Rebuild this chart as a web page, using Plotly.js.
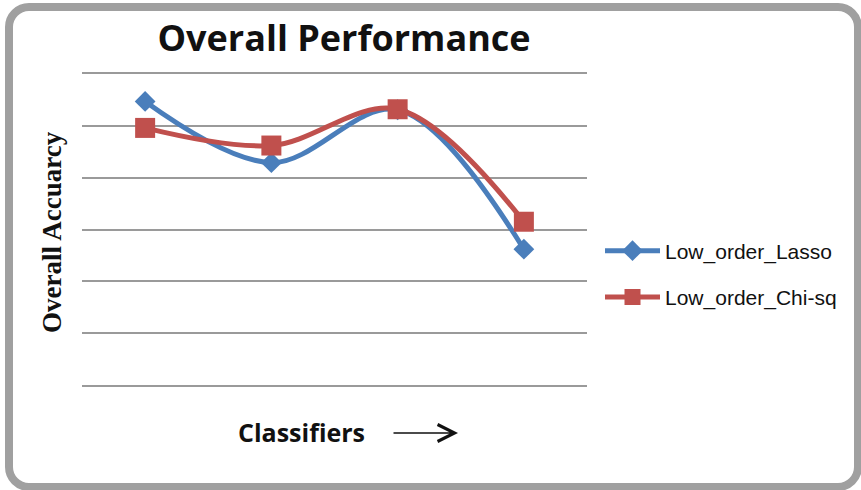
<!DOCTYPE html>
<html>
<head>
<meta charset="utf-8">
<script src="https://cdn.plot.ly/plotly-3.0.1.min.js"></script>
<style>
  html, body { margin: 0; padding: 0; background: #ffffff; }
  #wrap { position: relative; width: 861px; height: 490px; overflow: hidden; }
  #chart { width: 861px; height: 490px; }
  #frame {
    position: absolute; left: 5px; top: 3px; width: 857px; height: 488px;
    box-sizing: border-box; border: 8px solid #a0a0a0; border-radius: 24px;
    pointer-events: none;
  }
</style>
</head>
<body>
<div id="wrap">
  <div id="chart"></div>
  <div id="frame"></div>
</div>
<script>
// Classifier positions (no labels shown in the reference)
const classifiers = ["C1", "C2", "C3", "C4"];
const lassoValues = [94.7, 82.9, 93.1, 66.2];
const chiValues   = [89.6, 86.2, 93.2, 71.5];
const seriesNames = ["Low_order_Lasso", "Low_order_Chi-sq"];
const titleText = "Overall Performance";
const yTitleText = "Overall Accuarcy";
const xTitleText = "Classifiers";

const traces = [
  {
    x: classifiers, y: lassoValues, name: seriesNames[0],
    type: "scatter", mode: "lines+markers",
    line: { color: "#4a7ebb", width: 5, shape: "spline", smoothing: 1 },
    marker: { symbol: "diamond", size: 16, color: "#4a7ebb" },
    legendgroup: "a"
  },
  {
    x: classifiers, y: chiValues, name: seriesNames[1],
    type: "scatter", mode: "lines+markers",
    line: { color: "#c0504d", width: 5, shape: "spline", smoothing: 1 },
    marker: { symbol: "square", size: 20, color: "#c0504d" },
    legendgroup: "b"
  }
];

const layout = {
  width: 861, height: 490,
  margin: { l: 82, r: 274, t: 74, b: 105 },
  paper_bgcolor: "#ffffff", plot_bgcolor: "#ffffff",
  showlegend: true,
  title: {
    text: "<b>" + titleText + "</b>",
    font: { family: "Open Sans", size: 36, color: "#111111" },
    xref: "container", yref: "container",
    x: 344 / 861, xanchor: "center",
    y: 1 - 38.5 / 490, yanchor: "middle"
  },
  xaxis: {
    type: "category", range: [-0.5, 3.5],
    showticklabels: false, ticks: "", showgrid: false, zeroline: false,
    showline: true, mirror: true, linecolor: "#9a9a9a", linewidth: 2,
    fixedrange: true
  },
  yaxis: {
    range: [40, 100], dtick: 10, tick0: 40,
    showticklabels: false, ticks: "", showgrid: true,
    gridcolor: "#9a9a9a", gridwidth: 2, zeroline: false, showline: false,
    fixedrange: true
  },
  legend: {
    xref: "container", yref: "container",
    x: 600 / 861, xanchor: "left",
    y: 1 - 274 / 490, yanchor: "middle",
    font: { family: "Liberation Sans", size: 21, color: "#111111" },
    itemwidth: 55, traceorder: "grouped", tracegroupgap: 16,
    bgcolor: "rgba(0,0,0,0)", borderwidth: 0
  },
  annotations: [
    {
      text: "<b>" + yTitleText + "</b>", textangle: -90,
      xref: "paper", yref: "paper", x: (52 - 82) / 505, y: (385 - 232) / 311,
      xanchor: "center", yanchor: "middle", showarrow: false,
      font: { family: "Liberation Serif", size: 27, color: "#111111" }
    },
    {
      text: "<b>" + xTitleText + "</b>",
      xref: "paper", yref: "paper", x: (301.5 - 82) / 505, y: (385 - 432) / 311,
      xanchor: "center", yanchor: "middle", showarrow: false,
      font: { family: "Open Sans", size: 25, color: "#111111" }
    },
    {
      text: "",
      xref: "paper", yref: "paper", x: (458 - 82) / 505, y: (385 - 433) / 311,
      ax: -66, ay: 0, axref: "pixel", ayref: "pixel",
      showarrow: true, arrowhead: 5, arrowsize: 2.2, arrowwidth: 1.5,
      arrowcolor: "#111111", standoff: 0, startstandoff: 0
    }
  ]
};

Plotly.newPlot("chart", traces, layout, { displayModeBar: false, staticPlot: true });
</script>
</body>
</html>
